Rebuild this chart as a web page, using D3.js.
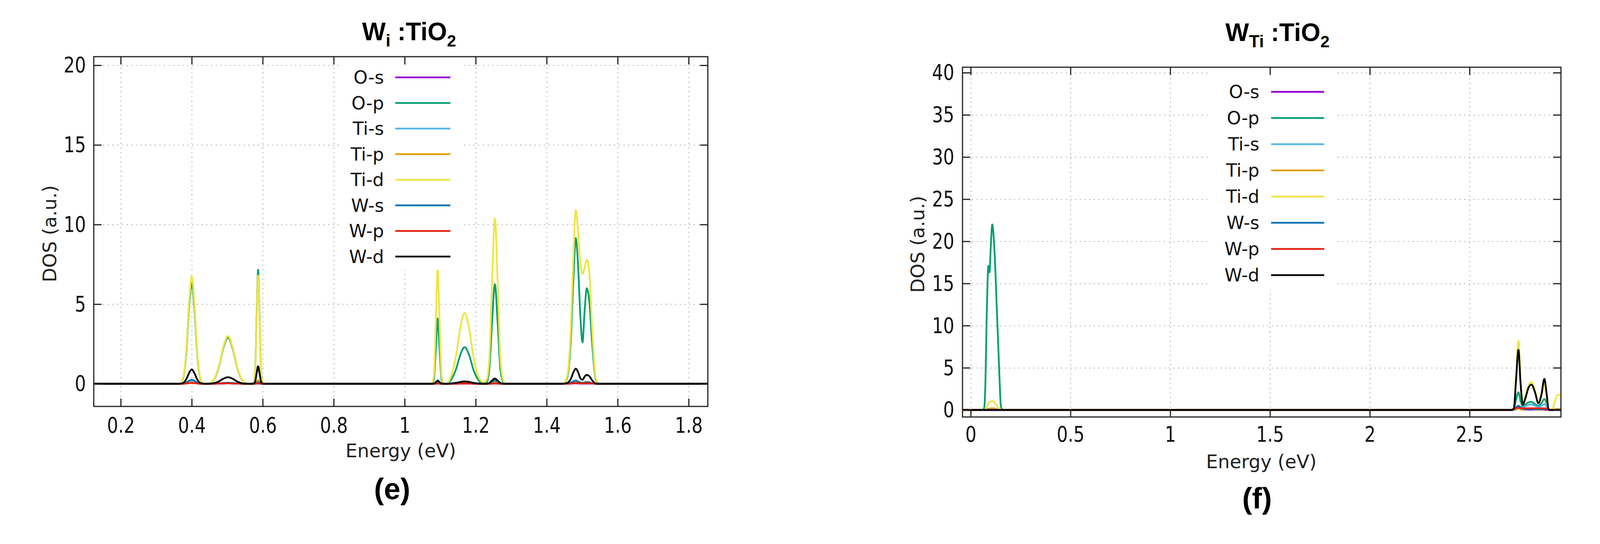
<!DOCTYPE html>
<html>
<head>
<meta charset="utf-8">
<script src="https://cdn.jsdelivr.net/npm/d3@7"></script>
<style>
  body { margin: 0; background: #fff; }
  svg { display: block; }
</style>
</head>
<body>
<svg id="chart" width="4164" height="1392"></svg>
<script>
// ---- values ----

const seriesNames = ["O-s", "O-p", "Ti-s", "Ti-p", "Ti-d", "W-s", "W-p", "W-d"];

// panel (e)  W_i : TiO2
const leftXTicks = [0.2, 0.4, 0.6, 0.8, 1, 1.2, 1.4, 1.6, 1.8];
const leftYTicks = [0, 5, 10, 15, 20];

const leftEnergy = [0.124,
  0.365, 0.375, 0.385, 0.392, 0.400, 0.408, 0.415, 0.425, 0.435,
  0.445, 0.460, 0.475, 0.490, 0.502, 0.515, 0.530, 0.545, 0.560,
  0.572, 0.578, 0.583, 0.587, 0.591, 0.596, 0.602,
  1.075, 1.082, 1.088, 1.093, 1.098, 1.104, 1.111,
  1.118, 1.130, 1.145, 1.158, 1.169, 1.181, 1.195, 1.210, 1.222,
  1.230, 1.238, 1.246, 1.254, 1.262, 1.270, 1.280, 1.290,
  1.445, 1.458, 1.468, 1.475, 1.482, 1.489, 1.495, 1.501, 1.507, 1.513, 1.520, 1.528, 1.538, 1.548,
  1.854];

const leftOs = [0,
  0, 0, 0.04, 0.08, 0.1, 0.08, 0.04, 0, 0,
  0, 0, 0.01, 0.02, 0.03, 0.02, 0.01, 0, 0,
  0, 0, 0.01, 0.02, 0.01, 0, 0,
  0, 0, 0.01, 0.02, 0.01, 0, 0,
  0, 0, 0, 0.01, 0.01, 0.01, 0, 0, 0,
  0, 0, 0.01, 0.02, 0.01, 0, 0, 0,
  0, 0, 0.01, 0.02, 0.03, 0.02, 0.01, 0.01, 0.01, 0.02, 0.01, 0.01, 0, 0,
  0];
const leftOp = [0,
  0, 0.28, 2.05, 4.6, 6.3, 4.6, 2.05, 0.28, 0,
  0, 0.19, 0.94, 2.32, 2.9, 2.23, 0.87, 0.16, 0,
  0, 0.57, 4.35, 7.16, 4.35, 0.57, 0,
  0, 0.27, 2.3, 4.1, 2.3, 0.27, 0,
  0.01, 0.22, 0.94, 1.9, 2.3, 1.84, 0.8, 0.17, 0,
  0.05, 0.84, 3.8, 6.25, 3.8, 0.84, 0.03, 0,
  0, 0.4, 2.8, 6.4, 9.14, 7.2, 4.2, 2.6, 4.6, 6.0, 5.2, 2.6, 0.3, 0,
  0];
const leftTis = [0,
  0, 0.01, 0.06, 0.13, 0.18, 0.13, 0.06, 0.01, 0,
  0, 0, 0.02, 0.04, 0.05, 0.04, 0.02, 0, 0,
  0, 0, 0.03, 0.05, 0.03, 0, 0,
  0, 0, 0.03, 0.06, 0.03, 0, 0,
  0, 0, 0.01, 0.02, 0.03, 0.02, 0.01, 0, 0,
  0, 0.02, 0.06, 0.1, 0.06, 0.02, 0, 0,
  0, 0.01, 0.05, 0.1, 0.14, 0.1, 0.06, 0.04, 0.06, 0.08, 0.06, 0.03, 0, 0,
  0];
const leftTip = [0,
  0, 0, 0.03, 0.07, 0.1, 0.07, 0.03, 0, 0,
  0, 0, 0.02, 0.05, 0.06, 0.05, 0.02, 0, 0,
  0, 0.03, 0.14, 0.22, 0.14, 0.03, 0,
  0, 0, 0.02, 0.04, 0.02, 0, 0,
  0, 0, 0.01, 0.03, 0.04, 0.03, 0.01, 0, 0,
  0, 0.02, 0.07, 0.12, 0.07, 0.02, 0, 0,
  0, 0.01, 0.06, 0.12, 0.16, 0.13, 0.09, 0.07, 0.1, 0.13, 0.1, 0.05, 0, 0,
  0];
const leftTid = [0,
  0, 0.3, 2.2, 4.9, 6.75, 4.9, 2.2, 0.3, 0,
  0, 0.2, 0.98, 2.4, 3.0, 2.3, 0.9, 0.17, 0,
  0, 0.54, 4.15, 6.8, 4.15, 0.54, 0,
  0, 0.47, 4.1, 7.24, 4.1, 0.47, 0,
  0.02, 0.43, 1.82, 3.68, 4.44, 3.55, 1.55, 0.33, 0.1,
  0.2, 1.4, 6.3, 10.37, 6.3, 1.4, 0.1, 0,
  0, 0.5, 3.5, 7.8, 10.9, 9.4, 7.6, 6.9, 7.3, 7.8, 7.0, 3.5, 0.4, 0,
  0];
const leftWs = [0,
  0, 0.01, 0.08, 0.18, 0.25, 0.18, 0.08, 0.01, 0,
  0, 0, 0.02, 0.05, 0.06, 0.05, 0.02, 0, 0,
  0, 0.01, 0.06, 0.1, 0.06, 0.01, 0,
  0, 0, 0.05, 0.1, 0.05, 0, 0,
  0, 0, 0.01, 0.03, 0.04, 0.03, 0.01, 0, 0,
  0, 0.03, 0.12, 0.2, 0.12, 0.03, 0, 0,
  0, 0.01, 0.06, 0.15, 0.2, 0.14, 0.08, 0.05, 0.08, 0.1, 0.08, 0.04, 0, 0,
  0];
const leftWp = [0,
  0, 0, 0.02, 0.04, 0.05, 0.04, 0.02, 0, 0,
  0, 0, 0.01, 0.02, 0.03, 0.02, 0.01, 0, 0,
  0, 0, 0.02, 0.03, 0.02, 0, 0,
  0, 0, 0, 0.01, 0, 0, 0,
  0, 0, 0, 0.01, 0.01, 0.01, 0, 0, 0,
  0, 0, 0.01, 0.02, 0.01, 0, 0, 0,
  0, 0, 0.02, 0.04, 0.05, 0.04, 0.03, 0.02, 0.03, 0.04, 0.03, 0.02, 0, 0,
  0];
const leftWd = [0,
  0, 0.04, 0.3, 0.65, 0.9, 0.65, 0.3, 0.04, 0,
  0, 0.03, 0.13, 0.33, 0.41, 0.32, 0.12, 0.02, 0,
  0, 0.09, 0.67, 1.1, 0.67, 0.09, 0,
  0, 0.01, 0.11, 0.2, 0.11, 0.01, 0,
  0, 0.02, 0.06, 0.12, 0.15, 0.12, 0.05, 0.01, 0,
  0, 0.045, 0.2, 0.33, 0.2, 0.045, 0, 0,
  0, 0.05, 0.3, 0.7, 0.95, 0.7, 0.35, 0.25, 0.45, 0.56, 0.48, 0.22, 0.02, 0,
  0];

// panel (f)  W_Ti : TiO2
const rightXTicks = [0, 0.5, 1, 1.5, 2, 2.5];
const rightYTicks = [0, 5, 10, 15, 20, 25, 30, 35, 40];

const rightEnergy = [-0.041,
  0.060, 0.068, 0.074, 0.080, 0.085, 0.089, 0.094, 0.101, 0.108, 0.115, 0.122, 0.130, 0.137, 0.144, 0.151, 0.160,
  2.710, 2.722, 2.733, 2.745, 2.756, 2.767, 2.780, 2.795, 2.810, 2.828, 2.845, 2.860, 2.875, 2.886, 2.896, 2.905, 2.914, 2.925, 2.935, 2.945, 2.959];

const rightOs = [0,
  0, 0, 0, 0, 0, 0, 0, 0, 0, 0, 0, 0, 0, 0, 0, 0,
  0, 0, 0.15, 0.3, 0.15, 0.05, 0.03, 0.03, 0.03, 0.03, 0.03, 0.03, 0.03, 0, 0, 0, 0, 0, 0, 0, 0];
const rightOp = [0,
  0, 0.3, 3.5, 11, 15.6, 17.1, 16.3, 19.6, 22.0, 20.6, 17.5, 12.5, 8.3, 4, 0.5, 0,
  0, 0.1, 1.2, 2.1, 1.0, 0.45, 0.65, 0.9, 0.96, 0.7, 0.5, 0.8, 1.3, 0.8, 0.05, 0, 0, 0, 0, 0, 0];
const rightTis = [0,
  0, 0, 0, 0, 0, 0, 0, 0, 0, 0, 0, 0, 0, 0, 0, 0,
  0, 0, 0.3, 0.5, 0.35, 0.3, 0.45, 0.6, 0.65, 0.5, 0.35, 0.5, 0.7, 0.4, 0, 0, 0, 0, 0, 0, 0];
const rightTip = [0,
  0, 0, 0, 0.05, 0.1, 0.15, 0.15, 0.2, 0.2, 0.2, 0.15, 0.1, 0.05, 0, 0, 0,
  0, 0, 0.1, 0.2, 0.1, 0.05, 0.05, 0.1, 0.1, 0.05, 0.05, 0.05, 0.1, 0.05, 0, 0, 0, 0.05, 0.1, 0.1, 0.1];
const rightTid = [0,
  0, 0, 0.05, 0.3, 0.6, 0.8, 0.9, 1.0, 1.05, 1.0, 0.8, 0.55, 0.3, 0.1, 0, 0,
  0, 0.25, 4.2, 8.2, 3.4, 0.7, 1.6, 2.9, 3.3, 2.3, 0.8, 1.6, 3.1, 1.5, 0.1, 0, 0.05, 0.8, 1.5, 1.8, 1.8];
const rightWs = [0,
  0, 0, 0, 0, 0, 0, 0, 0, 0, 0, 0, 0, 0, 0, 0, 0,
  0, 0.05, 0.3, 0.5, 0.3, 0.15, 0.1, 0.1, 0.1, 0.1, 0.1, 0.1, 0.1, 0.05, 0, 0, 0, 0, 0, 0, 0];
const rightWp = [0,
  0, 0, 0, 0, 0, 0, 0, 0, 0, 0, 0, 0, 0, 0, 0, 0,
  0, 0.1, 0.2, 0.25, 0.2, 0.2, 0.2, 0.2, 0.2, 0.2, 0.2, 0.2, 0.2, 0.15, 0, 0, 0, 0, 0, 0, 0];
const rightWd = [0,
  0, 0, 0, 0, 0, 0, 0, 0, 0, 0, 0, 0, 0, 0, 0, 0,
  0, 0.2, 3.5, 7.13, 3.0, 0.66, 1.4, 2.6, 3.0, 2.1, 0.8, 1.8, 3.7, 2.0, 0.1, 0, 0, 0, 0, 0, 0];

// gnuplot's default line colours, same order as seriesNames
const seriesColors = ["#9400d3", "#009e73", "#56b4e9", "#e69f00", "#f0e442", "#0072b2", "#e51e10", "#000000"];

const svg = d3.select("#chart");
svg.append("rect")
   .attr("width", 4164)
   .attr("height", 1392)
   .attr("fill", "#fff");

// layout of each panel (pixel boxes measured on the figure)
const panels = [
  {
    id: "e",
    energy: leftEnergy,
    series: [leftOs, leftOp, leftTis, leftTip, leftTid, leftWs, leftWp, leftWd],
    xDomain: [0.124, 1.854], yDomain: [-1.423, 20.54],
    xTicks: leftXTicks, yTicks: leftYTicks,
    left: 240, right: 1812, top: 145, bottom: 1040,
    xTickBase: 67, yTickGap: 20,
    xLabel: [1026, 1170], yLabel: [127, 598],
    title: [927, 103], sub: "i", tag: [1004, 1277],
    key: { box: [873, 150, 1180, 690], textRight: 983, line: [1012, 1153], row0: 198, step: 65.5 }
  },
  {
    id: "f",
    energy: rightEnergy,
    series: [rightOs, rightOp, rightTis, rightTip, rightTid, rightWs, rightWp, rightWd],
    xDomain: [-0.0411, 2.958], yDomain: [-0.834, 40.65],
    xTicks: rightXTicks, yTicks: rightYTicks,
    left: 2464, right: 3996, top: 172, bottom: 1067,
    xTickBase: 63, yTickGap: 21,
    xLabel: [3229, 1198], yLabel: [2349, 625],
    title: [3137, 105], sub: "Ti", tag: [3218, 1301],
    key: { box: [3097, 180, 3417, 741], textRight: 3224, line: [3254, 3390], row0: 235, step: 67 }
  }
];

const squeeze = 0.8;   // tick digits in the figure are narrower than DejaVu

function drawPanel(p) {

    const x = d3.scaleLinear()
                .domain(p.xDomain)
                .range([p.left, p.right]);
    const y = d3.scaleLinear()
                .domain(p.yDomain)
                .range([p.bottom, p.top]);
    const w = p.right - p.left;
    const h = p.bottom - p.top;

    // dotted grid
    const grid = svg.append("g").attr("class", "grid");
    grid.append("g")
        .attr("transform", "translate(0," + p.bottom + ")")
        .call(d3.axisBottom(x).tickValues(p.xTicks).tickSize(-h).tickFormat(""));
    grid.append("g")
        .attr("transform", "translate(" + p.left + ",0)")
        .call(d3.axisLeft(y).tickValues(p.yTicks).tickSize(-w).tickFormat(""));
    grid.selectAll(".domain").remove();
    grid.selectAll("line")
        .attr("stroke", "#a9a9a9")
        .attr("stroke-width", 2)
        .attr("stroke-dasharray", "3,9");

    // curves
    const clipId = "clip-" + p.id;
    svg.append("clipPath")
       .attr("id", clipId)
       .append("rect")
       .attr("x", p.left).attr("y", p.top)
       .attr("width", w).attr("height", h);

    const line = d3.line()
                   .x((d, i) => x(p.energy[i]))
                   .y(d => y(d))
                   .curve(d3.curveMonotoneX);

    svg.append("g")
       .attr("clip-path", "url(#" + clipId + ")")
       .selectAll("path")
       .data(p.series)
       .enter()
       .append("path")
       .attr("d", line)
       .attr("fill", "none")
       .attr("stroke", (d, i) => seriesColors[i])
       .attr("stroke-width", 4.5)
       .attr("stroke-linejoin", "round");

    // key (opaque box)
    const k = p.key;
    svg.append("rect")
       .attr("x", k.box[0]).attr("y", k.box[1])
       .attr("width", k.box[2] - k.box[0])
       .attr("height", k.box[3] - k.box[1])
       .attr("fill", "#fff");

    const rows = svg.append("g")
                    .selectAll("g")
                    .data(seriesNames)
                    .enter()
                    .append("g")
                    .attr("transform", (d, i) => "translate(0," + (k.row0 + i * k.step) + ")");
    rows.append("text")
        .attr("x", k.textRight)
        .attr("text-anchor", "end")
        .attr("dominant-baseline", "central")
        .attr("font-family", "DejaVu Sans")
        .attr("font-size", 46)
        .attr("fill", "#111")
        .text(d => d);
    rows.append("line")
        .attr("x1", k.line[0]).attr("x2", k.line[1])
        .attr("stroke", (d, i) => seriesColors[i])
        .attr("stroke-width", 4.5);

    // frame
    svg.append("rect")
       .attr("x", p.left).attr("y", p.top)
       .attr("width", w).attr("height", h)
       .attr("fill", "none")
       .attr("stroke", "#222")
       .attr("stroke-width", 3);

    // ticks, pointing inwards on all four sides
    const axes = svg.append("g")
                    .attr("class", "axes")
                    .style("color", "#222");

    const xb = axes.append("g")
                   .attr("transform", "translate(0," + p.bottom + ")")
                   .call(d3.axisBottom(x).tickValues(p.xTicks).tickSizeInner(-20).tickSizeOuter(0).tickFormat(d3.format("~g")));
    xb.selectAll("text")
      .attr("y", p.xTickBase)
      .attr("dy", 0)
      .attr("transform", "scale(" + squeeze + ",1)");

    const yl = axes.append("g")
                   .attr("transform", "translate(" + p.left + ",0)")
                   .call(d3.axisLeft(y).tickValues(p.yTicks).tickSizeInner(-20).tickSizeOuter(0));
    yl.selectAll("text")
      .attr("x", -p.yTickGap / squeeze)
      .attr("transform", "scale(" + squeeze + ",1)");

    axes.append("g")
        .attr("transform", "translate(0," + p.top + ")")
        .call(d3.axisTop(x).tickValues(p.xTicks).tickSizeInner(-20).tickSizeOuter(0).tickFormat(""));
    axes.append("g")
        .attr("transform", "translate(" + p.right + ",0)")
        .call(d3.axisRight(y).tickValues(p.yTicks).tickSizeInner(-20).tickSizeOuter(0).tickFormat(""));

    axes.selectAll(".domain").remove();
    axes.selectAll("line").attr("stroke-width", 3);
    axes.selectAll("text")
        .attr("font-family", "DejaVu Sans")
        .attr("font-size", 56)
        .attr("fill", "#111");

    // axis titles
    svg.append("text")
       .attr("x", p.xLabel[0]).attr("y", p.xLabel[1])
       .attr("text-anchor", "middle")
       .attr("font-family", "DejaVu Sans")
       .attr("font-size", 48)
       .attr("fill", "#222")
       .text("Energy (eV)");

    svg.append("text")
       .attr("transform", "translate(" + p.yLabel[0] + "," + p.yLabel[1] + ") rotate(-90)")
       .attr("text-anchor", "middle")
       .attr("dominant-baseline", "central")
       .attr("font-family", "DejaVu Sans")
       .attr("font-size", 48)
       .attr("fill", "#222")
       .text("DOS (a.u.)");

    // panel title with subscripts
    const title = svg.append("text")
                     .attr("x", p.title[0]).attr("y", p.title[1])
                     .attr("font-family", "Liberation Sans")
                     .attr("font-weight", "bold")
                     .attr("font-size", 64)
                     .attr("fill", "#000");
    title.append("tspan").text("W");
    title.append("tspan").attr("font-size", 44).attr("dy", 16).text(p.sub);
    title.append("tspan").attr("dy", -16).text(" :TiO");
    title.append("tspan").attr("font-size", 42).attr("dy", 16).text("2");

    // (e) / (f)
    svg.append("text")
       .attr("x", p.tag[0]).attr("y", p.tag[1])
       .attr("text-anchor", "middle")
       .attr("font-family", "Liberation Sans")
       .attr("font-weight", "bold")
       .attr("font-size", 76)
       .attr("fill", "#000")
       .text("(" + p.id + ")");
}

panels.forEach(drawPanel);
</script>
</body>
</html>
